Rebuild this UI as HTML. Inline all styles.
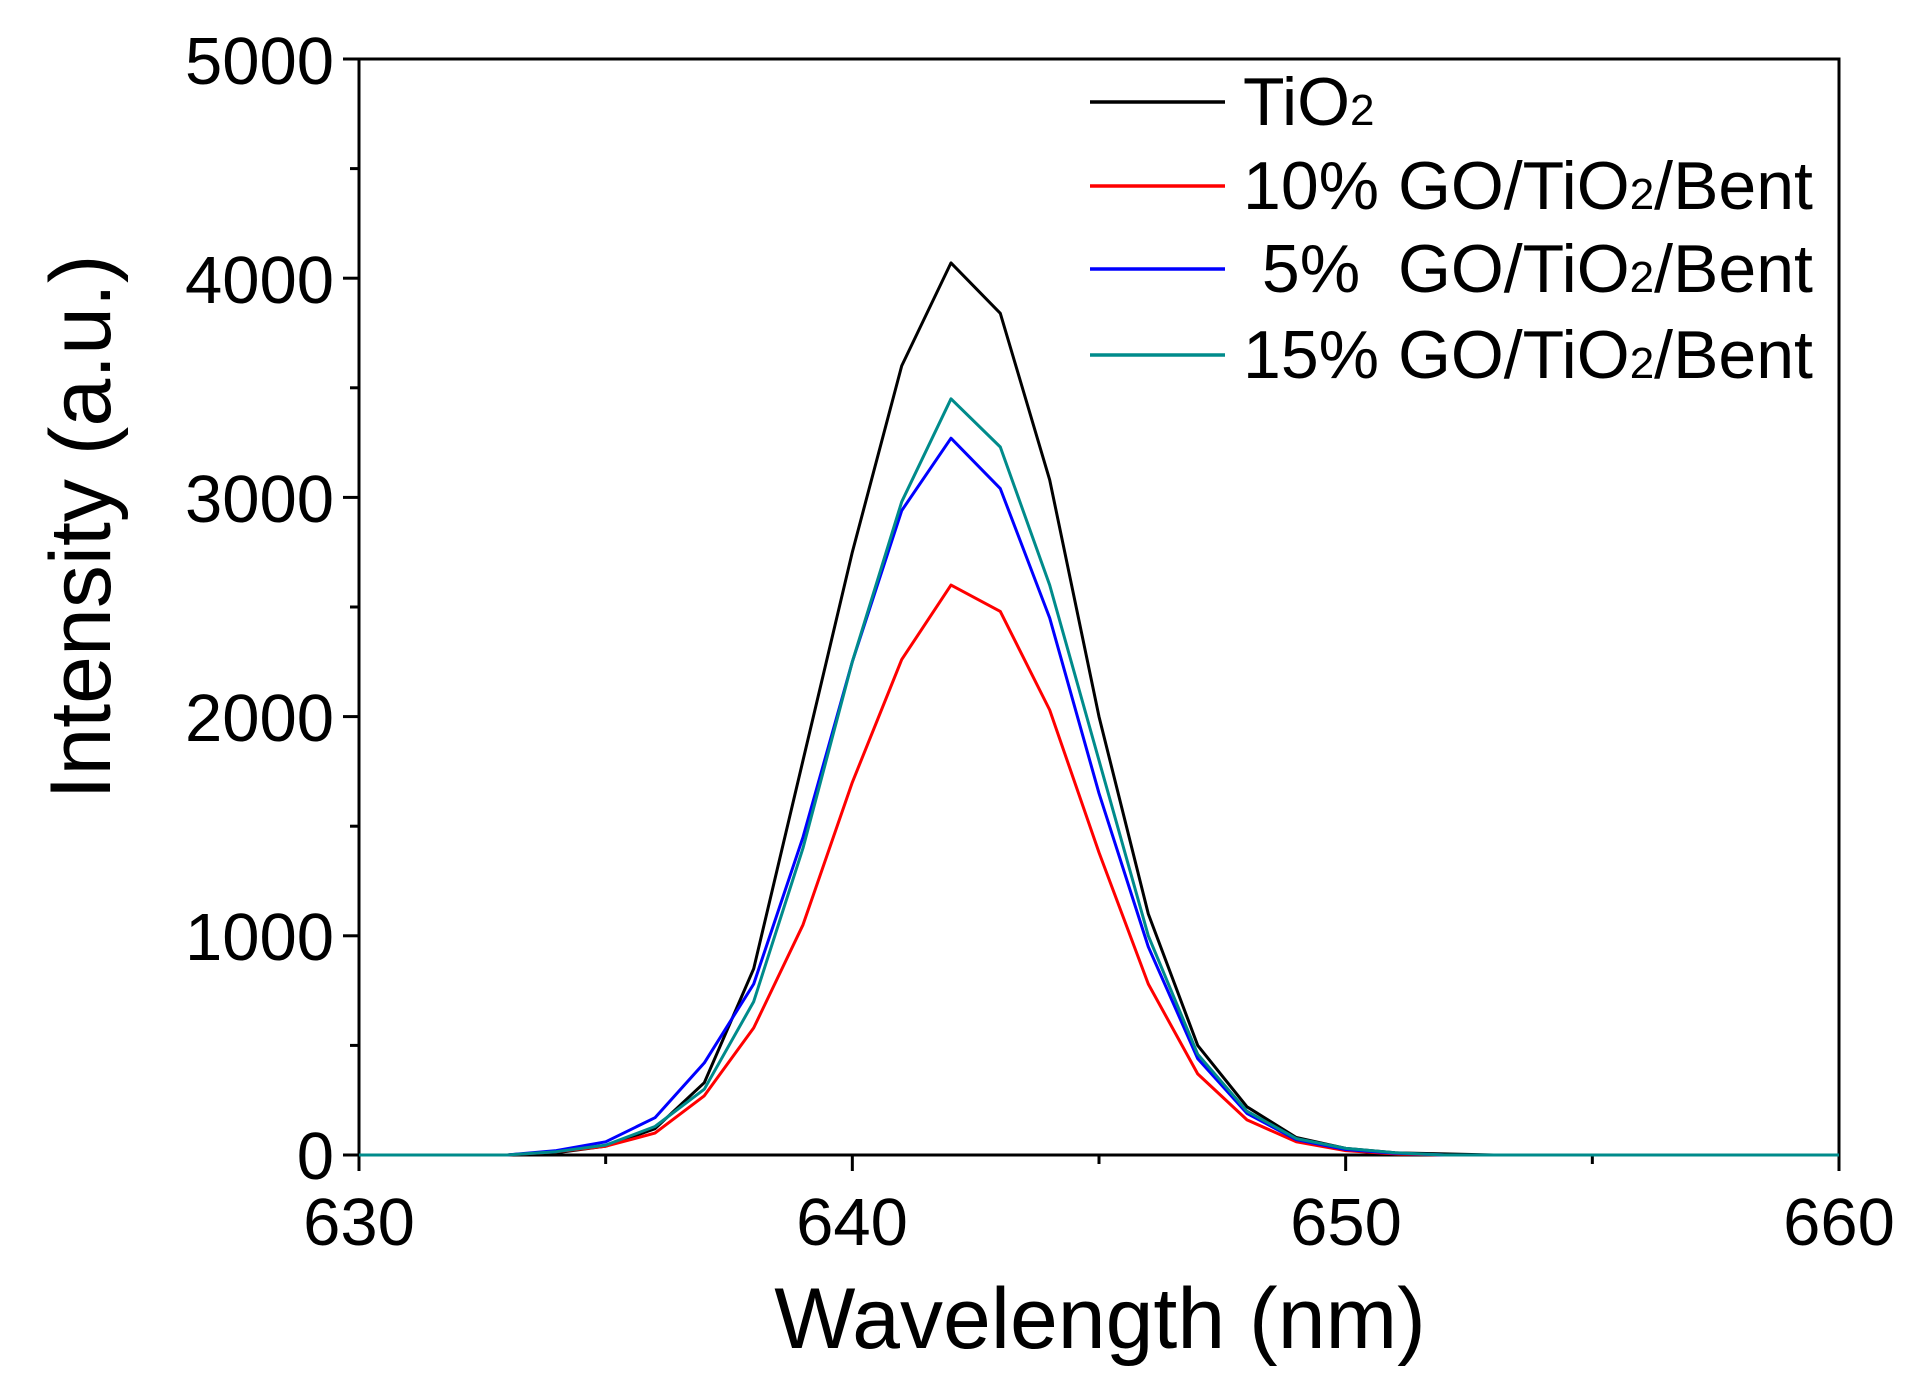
<!DOCTYPE html>
<html><head><meta charset="utf-8"><style>
html,body{margin:0;padding:0;background:#fff;}
svg{display:block;}
text{font-family:"Liberation Sans",Arial,sans-serif;fill:#000;white-space:pre;}
</style></head><body>
<svg id="s" width="1920" height="1380" viewBox="0 0 1920 1380" xmlns="http://www.w3.org/2000/svg">
<rect x="359" y="59" width="1480" height="1096" fill="none" stroke="#000" stroke-width="3"/>
<g id="ticks" stroke="#000" stroke-width="3"></g>
<g font-size="67">
<text x="334" y="1179" text-anchor="end">0</text>
<text x="334" y="960" text-anchor="end">1000</text>
<text x="334" y="741" text-anchor="end">2000</text>
<text x="334" y="522" text-anchor="end">3000</text>
<text x="334" y="303" text-anchor="end">4000</text>
<text x="334" y="84" text-anchor="end">5000</text>
<text x="359" y="1245" text-anchor="middle">630</text>
<text x="852" y="1245" text-anchor="middle">640</text>
<text x="1346" y="1245" text-anchor="middle">650</text>
<text x="1839" y="1245" text-anchor="middle">660</text>
</g>
<text x="1100" y="1348" font-size="86" text-anchor="middle">Wavelength (nm)</text>
<text transform="translate(110,527) rotate(-90)" font-size="86" text-anchor="middle">Intensity (a.u.)</text>
<g id="lines" fill="none" stroke-width="3" stroke-linejoin="round"></g>
<g stroke-width="3.5">
<line x1="1090" y1="102" x2="1225" y2="102" stroke="#000"/>
<line x1="1090" y1="186" x2="1225" y2="186" stroke="#f00"/>
<line x1="1090" y1="269" x2="1225" y2="269" stroke="#00f"/>
<line x1="1090" y1="355" x2="1225" y2="355" stroke="#008b8b"/>
</g>
<g font-size="68">
<text x="1243" y="125">TiO<tspan font-size="44">2</tspan></text>
<text x="1243" y="209">10% GO/TiO<tspan font-size="44">2</tspan>/Bent</text>
<text x="1243" y="292"> 5%  GO/TiO<tspan font-size="44">2</tspan>/Bent</text>
<text x="1243" y="378">15% GO/TiO<tspan font-size="44">2</tspan>/Bent</text>
</g>
</svg>
<script>
function X(w){return 359+(w-630)*1480/30;}
function Y(v){return 1155-v*1096/5000;}
var t=document.getElementById("ticks"),h="";
for(var v=0;v<=5000;v+=500){var L=(v%1000==0)?16:9;h+='<line x1="'+(359-L)+'" y1="'+Y(v)+'" x2="359" y2="'+Y(v)+'"/>';}
for(var w=630;w<=660;w+=5){var L=(w%10==0)?16:9;h+='<line x1="'+X(w)+'" y1="1155" x2="'+X(w)+'" y2="'+(1155+L)+'"/>';}
t.innerHTML=h;
var data={
"#000":{634:10,635:40,636:120,637:330,638:850,639:1800,640:2750,641:3600,642:4070,643:3840,644:3080,645:2000,646:1100,647:500,648:220,649:80,650:30,651:10,652:5},
"#f00":{634:15,635:40,636:100,637:270,638:580,639:1050,640:1700,641:2260,642:2600,643:2480,644:2030,645:1380,646:780,647:370,648:160,649:60,650:20,651:5},
"#00f":{634:20,635:60,636:170,637:420,638:780,639:1450,640:2250,641:2940,642:3270,643:3040,644:2450,645:1650,646:950,647:440,648:190,649:70,650:25,651:8},
"#008b8b":{634:15,635:45,636:130,637:300,638:700,639:1400,640:2250,641:2980,642:3450,643:3230,644:2600,645:1800,646:1000,647:460,648:200,649:75,650:30,651:10}
};
var g=document.getElementById("lines"),s="";
for(var c in data){var p=[];for(var w=630;w<=660;w++){var v=data[c][w]||0;p.push(X(w).toFixed(1)+","+Y(v).toFixed(1));}
s+='<polyline stroke="'+c+'" points="'+p.join(" ")+'"/>';}
g.innerHTML=s;
</script>
</body></html>
